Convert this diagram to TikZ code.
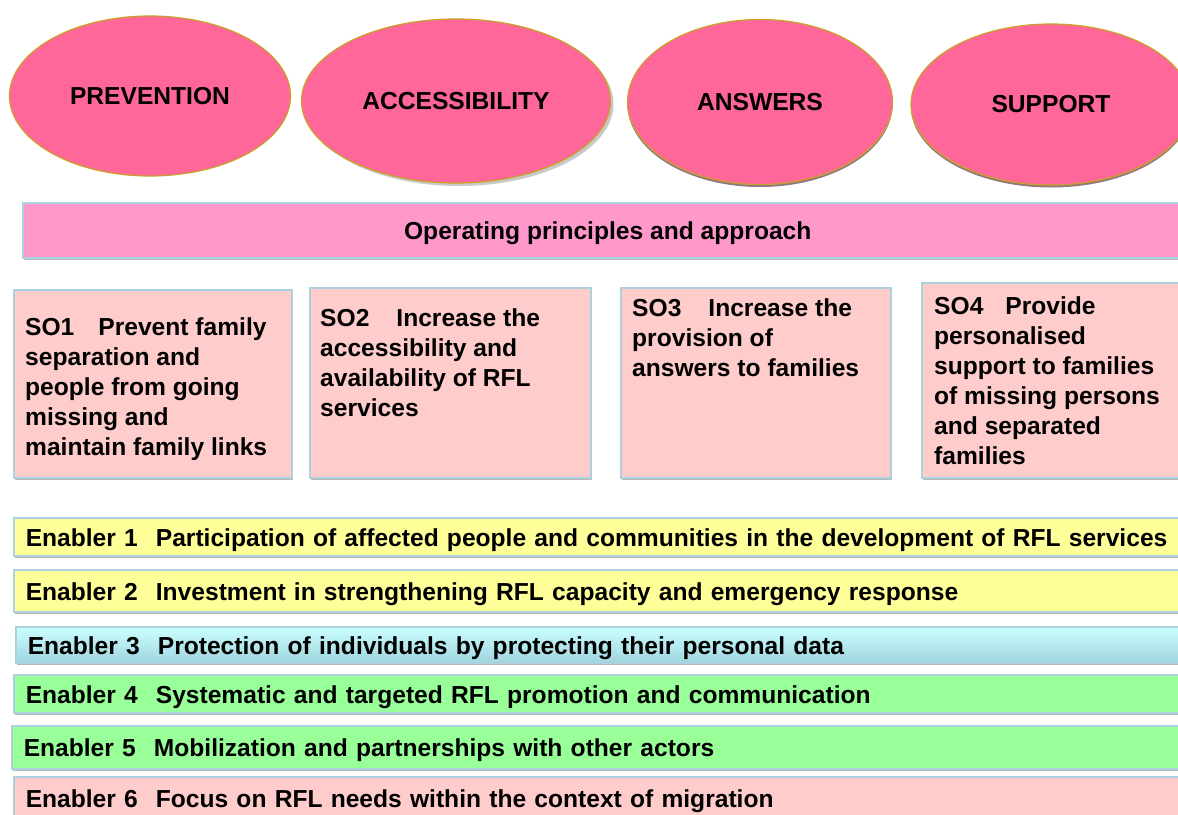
\documentclass[tikz,border=0pt]{standalone}
\usepackage{fontspec}
\setmainfont{Liberation Sans}
\usepackage{tikz}
\usetikzlibrary{shapes,shadows}
\definecolor{goalpink}{HTML}{FF6699}
\definecolor{goalline}{HTML}{C9A227}
\definecolor{oppink}{HTML}{FF99CC}
\definecolor{sopink}{HTML}{FFCCCC}
\definecolor{boxline}{HTML}{ABD2DE}
\definecolor{enyellow}{HTML}{FFFF99}
\definecolor{engreen}{HTML}{99FF99}
\definecolor{encyantop}{HTML}{CCFFFF}
\definecolor{encyanbot}{HTML}{9FD5DF}

\begin{document}
\begin{tikzpicture}[x=1pt, y=-1pt, font=\fontsize{24.6}{30}\selectfont\bfseries,
  goal/.style={ellipse, draw=goalline, line width=1.2pt, fill=goalpink, inner sep=0pt},
  panel/.style={rectangle, draw=boxline, line width=1.5pt, inner sep=0pt, anchor=north west,
    drop shadow={shadow xshift=1pt, shadow yshift=-2.5pt, fill=black!55, opacity=0.5}},
  sobox/.style={panel, fill=sopink},
  sotext/.style={anchor=north west, align=left, inner sep=0pt},
  yel/.style={fill=enyellow},
  grn/.style={fill=engreen},
  cyn/.style={top color=encyantop, bottom color=encyanbot},
  pnk/.style={fill=sopink}]
\useasboundingbox (0,0) rectangle (1178,814);
\fill[white] (0,0) rectangle (1178,814);
\clip (0,0) rectangle (1178,814);

% the four goals
\node[goal, minimum width=281, minimum height=160] (prevention) at (150,96) {PREVENTION};
\node[goal, minimum width=309, minimum height=164,
  drop shadow={shadow xshift=3pt, shadow yshift=-3pt, fill=black!60, opacity=0.35}] (accessibility) at (456,101) {ACCESSIBILITY};
\node[goal, minimum width=265, minimum height=165,
  drop shadow={shadow xshift=0pt, shadow yshift=-2.5pt, fill=black!70!goalpink, opacity=0.6}] (answers) at (760,102) {ANSWERS};
\node[goal, minimum width=280, minimum height=161,
  drop shadow={shadow xshift=0pt, shadow yshift=-2.5pt, fill=black!70!goalpink, opacity=0.6}] (support) at (1051,104.5) {SUPPORT};

% operating principles
\node[panel, fill=oppink, minimum width=1170, minimum height=55, text height=24pt, text depth=5.5pt] (approach) at (22,202) {Operating\ principles\ and\ approach};

% strategic objectives
\node[sobox, minimum width=278, minimum height=188] (so1) at (13,289) {};
\node[sobox, minimum width=281, minimum height=190] (so2) at (309,287) {};
\node[sobox, minimum width=270, minimum height=190] (so3) at (620,287) {};
\node[sobox, minimum width=270, minimum height=195] (so4) at (921,282) {};
\node[sotext] (so1text) at (25,317) {SO1\hspace{24pt}Prevent family\\separation and\\people from going\\missing and\\maintain family links};
\node[sotext] (so2text) at (320,308) {SO2\hspace{27pt}Increase the\\accessibility and\\availability of RFL\\services};
\node[sotext] (so3text) at (632,298) {SO3\hspace{27pt}Increase the\\provision of\\answers to families};
\node[sotext] (so4text) at (934,296) {SO4\hspace{22pt}Provide\\personalised\\support to families\\of missing persons\\and separated\\families};

% enablers
\foreach \n/\x/\y/\h/\sty/\txt in {
  1/13/517/38/yel/{Participation of affected people and communities in the development of RFL services},
  2/13/569/42/yel/{Investment in strengthening RFL capacity and emergency response},
  3/15/626/36/cyn/{Protection of individuals by protecting their personal data},
  4/13/674/38/grn/{Systematic and targeted RFL promotion and communication},
  5/11/725/43/grn/{Mobilization and partnerships with other actors},
  6/13/776/43/pnk/{Focus on RFL needs within the context of migration}}
  \node[panel, \sty, minimum width=1200, minimum height=\h, text width=1176pt, inner xsep=12pt,
    text height=24pt, text depth=5.5pt, align=left] (en\n) at (\x,\y) {Enabler \n\hspace{18pt}\txt};
\end{tikzpicture}
\end{document}
